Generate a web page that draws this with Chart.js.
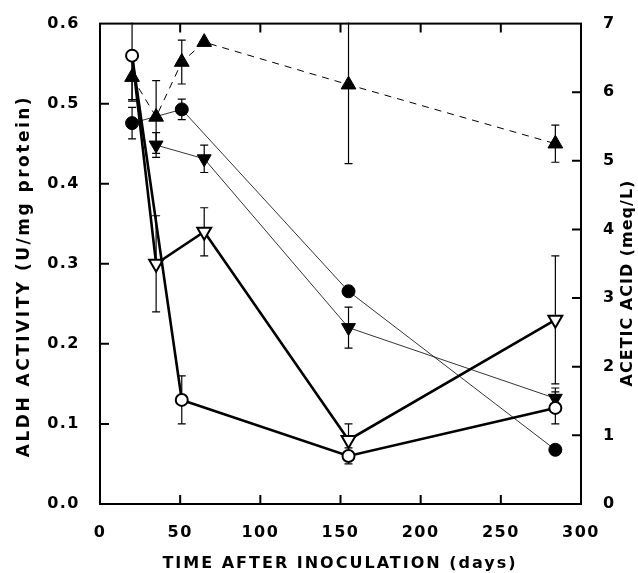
<!DOCTYPE html>
<html>
<head>
<meta charset="utf-8">
<script src="https://cdn.jsdelivr.net/npm/chart.js@4.4.0/dist/chart.umd.min.js"></script>
<style>
  html, body { margin: 0; padding: 0; background: #fff; }
  #wrap { width: 638px; height: 573px; }
</style>
</head>
<body>
<div id="wrap"><canvas id="chart" width="638" height="573"></canvas></div>
<script>
// ALDH activity, U/mg protein (left axis)
const openCircleDays = [20, 51, 155, 284];
const openCircleAldh = [0.56, 0.13, 0.06, 0.12];
const openCircleErr = [0.055, 0.03, 0.01, 0.02];

const openTriDays = [20, 35, 65, 155, 284];
const openTriAldh = [0.56, 0.30, 0.34, 0.08, 0.23];
const openTriErr = [0, 0.06, 0.03, 0.02, 0.08];

// acetic acid, meq/L (right axis)
const dotDays = [20, 51, 155, 284];
const dotAcid = [5.55, 5.75, 3.10, 0.79];
const dotErr = [0.23, 0.15, 0, 0];

const downTriDays = [35, 65, 155, 284];
const downTriAcid = [5.23, 5.03, 2.57, 1.54];
const downTriErr = [0.18, 0.2, 0.3, 0.15];

const upTriDays = [20, 35, 51, 65, 155, 284];
const upTriAcid = [6.22, 5.64, 6.44, 6.73, 6.11, 5.25];
const upTriErr = [0.35, 0.53, 0.32, 0, 1.15, 0.27];

const xTicks = [0, 50, 100, 150, 200, 250, 300];
const aldhTicks = [0, 0.1, 0.2, 0.3, 0.4, 0.5, 0.6];
const acidTicks = [0, 1, 2, 3, 4, 5, 6, 7];

function pts(xs, ys) {
    return xs.map((x, i) => ({ x: x, y: ys[i] }));
}

const FONT = 'DejaVu Sans';

// error bars, drawn under the markers
const errorBars = {
    id: 'errorBars',
    beforeDatasetsDraw(chart) {
        const { ctx, chartArea } = chart;
        ctx.save();
        ctx.beginPath();
        ctx.rect(chartArea.left, chartArea.top - 1, chartArea.right - chartArea.left, chartArea.bottom - chartArea.top + 2);
        ctx.clip();
        ctx.strokeStyle = '#000';
        ctx.lineWidth = 1.2;
        chart.data.datasets.forEach((ds, i) => {
            if (!ds.err) return;
            const yScale = chart.scales[ds.yAxisID];
            const meta = chart.getDatasetMeta(i);
            meta.data.forEach((pt, j) => {
                const e = ds.err[j];
                if (!e) return;
                const v = ds.data[j].y;
                const top = yScale.getPixelForValue(v + e);
                const bot = yScale.getPixelForValue(v - e);
                ctx.beginPath();
                ctx.moveTo(pt.x, top);
                ctx.lineTo(pt.x, bot);
                ctx.moveTo(pt.x - 4, top);
                ctx.lineTo(pt.x + 4, top);
                ctx.moveTo(pt.x - 4, bot);
                ctx.lineTo(pt.x + 4, bot);
                ctx.stroke();
            });
        });
        ctx.restore();
    }
};

// box frame, inward ticks and axis titles
const frame = {
    id: 'frame',
    beforeDraw(chart) {
        chart.ctx.letterSpacing = '1.5px';
    },
    afterDraw(chart) {
        const { ctx, chartArea: a, scales } = chart;
        ctx.save();
        ctx.letterSpacing = '0px';
        ctx.strokeStyle = '#000';
        ctx.lineWidth = 2;
        ctx.strokeRect(a.left, a.top, a.right - a.left, a.bottom - a.top);
        const tl = 9;
        ctx.beginPath();
        xTicks.slice(1, -1).forEach(v => {
            const px = scales.x.getPixelForValue(v);
            ctx.moveTo(px, a.bottom); ctx.lineTo(px, a.bottom - tl);
            ctx.moveTo(px, a.top); ctx.lineTo(px, a.top + tl);
        });
        aldhTicks.slice(1, -1).forEach(v => {
            const py = scales.yL.getPixelForValue(v);
            ctx.moveTo(a.left, py); ctx.lineTo(a.left + tl, py);
        });
        acidTicks.slice(1, -1).forEach(v => {
            const py = scales.yR.getPixelForValue(v);
            ctx.moveTo(a.right, py); ctx.lineTo(a.right - tl, py);
        });
        ctx.stroke();

        ctx.fillStyle = '#000';
        ctx.textAlign = 'center';
        ctx.textBaseline = 'middle';

        ctx.font = `bold 16px "${FONT}"`;
        ctx.letterSpacing = '2px';
        ctx.fillText('TIME AFTER INOCULATION (days)', 340, 564);

        ctx.save();
        ctx.translate(25, 276);
        ctx.rotate(-Math.PI / 2);
        ctx.font = `bold 17px "${FONT}"`;
        ctx.letterSpacing = '2.5px';
        ctx.fillText('ALDH ACTIVITY (U/mg protein)', 0, 0);
        ctx.restore();

        ctx.save();
        ctx.translate(628, 283);
        ctx.rotate(-Math.PI / 2);
        ctx.font = `bold 16px "${FONT}"`;
        ctx.letterSpacing = '1px';
        ctx.fillText('ACETIC ACID (meq/L)', 0, 0);
        ctx.restore();

        ctx.restore();
        ctx.letterSpacing = '0px';
    }
};

const tickFont = { family: FONT, size: 16, weight: 'bold' };

new Chart(document.getElementById('chart').getContext('2d'), {
    type: 'line',
    data: {
        datasets: [
            {
                label: 'open circles',
                data: pts(openCircleDays, openCircleAldh),
                err: openCircleErr,
                yAxisID: 'yL',
                borderColor: '#000',
                borderWidth: 2.6,
                pointStyle: 'circle',
                pointRadius: 6,
                pointBorderWidth: 2,
                pointBorderColor: '#000',
                pointBackgroundColor: '#fff'
            },
            {
                label: 'open triangles',
                data: pts(openTriDays, openTriAldh),
                err: openTriErr,
                yAxisID: 'yL',
                borderColor: '#000',
                borderWidth: 2.6,
                pointStyle: 'triangle',
                pointRotation: 180,
                pointRadius: [0, 8, 8, 8, 8],
                pointBorderWidth: 2,
                pointBorderColor: '#000',
                pointBackgroundColor: '#fff'
            },
            {
                label: 'dots',
                data: pts(dotDays, dotAcid),
                err: dotErr,
                yAxisID: 'yR',
                borderColor: '#000',
                borderWidth: 0.8,
                pointStyle: 'circle',
                pointRadius: 6.5,
                pointBorderWidth: 1,
                pointBorderColor: '#000',
                pointBackgroundColor: '#000'
            },
            {
                label: 'down triangles',
                data: pts(downTriDays, downTriAcid),
                err: downTriErr,
                yAxisID: 'yR',
                borderColor: '#000',
                borderWidth: 0.8,
                pointStyle: 'triangle',
                pointRotation: 180,
                pointRadius: 8,
                pointBorderWidth: 1,
                pointBorderColor: '#000',
                pointBackgroundColor: '#000'
            },
            {
                label: 'up triangles',
                data: pts(upTriDays, upTriAcid),
                err: upTriErr,
                yAxisID: 'yR',
                borderColor: '#000',
                borderWidth: 1,
                borderDash: [7, 6],
                pointStyle: 'triangle',
                pointRadius: 8.5,
                pointBorderWidth: 1,
                pointBorderColor: '#000',
                pointBackgroundColor: '#000'
            }
        ]
    },
    options: {
        responsive: false,
        animation: false,
        layout: { padding: { top: 21, left: 0, right: 0, bottom: 0 } },
        elements: { line: { tension: 0 } },
        plugins: {
            legend: { display: false },
            tooltip: { enabled: false }
        },
        scales: {
            x: {
                type: 'linear',
                min: 0,
                max: 300,
                afterBuildTicks: s => { s.ticks = xTicks.map(v => ({ value: v })); },
                afterFit: s => { s.height = 69; },
                grid: { display: false },
                border: { display: false },
                ticks: { color: '#000', font: tickFont, padding: 11, maxRotation: 0 }
            },
            yL: {
                type: 'linear',
                position: 'left',
                min: 0,
                max: 0.6,
                afterBuildTicks: s => { s.ticks = aldhTicks.map(v => ({ value: v })); },
                afterFit: s => { s.width = 100; },
                grid: { display: false },
                border: { display: false },
                ticks: { color: '#000', font: tickFont, padding: 12, callback: v => v.toFixed(1) }
            },
            yR: {
                type: 'linear',
                position: 'right',
                min: 0,
                max: 7,
                afterBuildTicks: s => { s.ticks = acidTicks.map(v => ({ value: v })); },
                afterFit: s => { s.width = 57; },
                grid: { display: false },
                border: { display: false },
                ticks: { color: '#000', font: tickFont, padding: 14 }
            }
        }
    },
    plugins: [errorBars, frame]
});
</script>
</body>
</html>
